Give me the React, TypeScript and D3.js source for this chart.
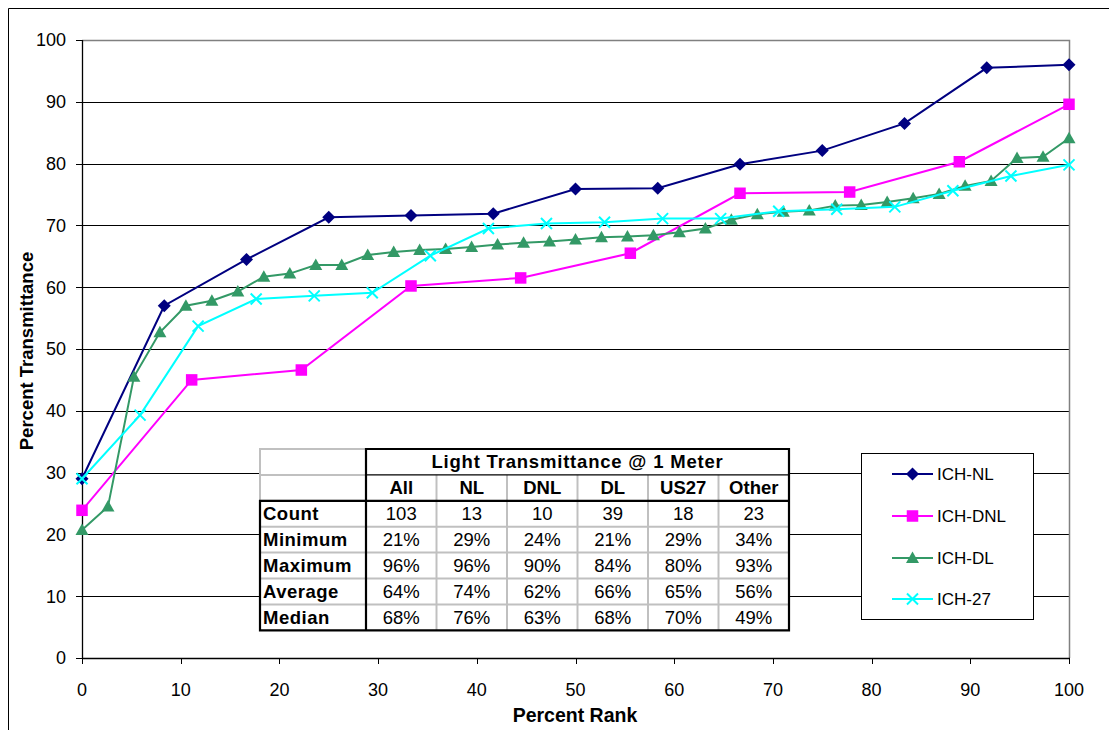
import React from "react";
import * as d3 from "d3";

// Percent transmittance values, sorted, for each location group
const nlValues = [29.0, 57.0, 64.5, 71.3, 71.6, 71.9, 75.9, 76.0, 79.9, 82.1, 86.5, 95.5, 96.0];
const dnlValues = [23.9, 45.0, 46.6, 60.2, 61.5, 65.5, 75.2, 75.4, 80.3, 89.6];
const dlValues = [
  20.7, 24.5, 45.5, 52.7, 57.0, 57.8, 59.3, 61.7, 62.2, 63.6, 63.6, 65.2, 65.7,
  66.0, 66.2, 66.5, 66.9, 67.2, 67.4, 67.7, 68.1, 68.2, 68.4, 68.9, 69.5, 70.9,
  71.8, 72.2, 72.4, 73.2, 73.3, 73.8, 74.4, 75.1, 76.4, 77.2, 80.9, 81.1, 84.1,
];
const us27Values = [
  29.0, 39.3, 53.7, 58.1, 58.6, 59.1, 65.1, 69.5, 70.3, 70.5, 71.1, 71.1, 72.3,
  72.6, 73.0, 75.6, 78.0, 79.8,
];

const seriesNames = ["ICH-NL", "ICH-DNL", "ICH-DL", "ICH-27"];
const seriesColors = ["#000080", "#FF00FF", "#339966", "#00FFFF"];
const seriesMarkers = ["diamond", "square", "triangle", "x"];

const xTicks = [0, 10, 20, 30, 40, 50, 60, 70, 80, 90, 100];
const yTicks = [0, 10, 20, 30, 40, 50, 60, 70, 80, 90, 100];

// Summary table
const tableTitle = "Light Transmittance @ 1 Meter";
const tableColumns = ["All", "NL", "DNL", "DL", "US27", "Other"];
const tableRowLabels = ["Count", "Minimum", "Maximum", "Average", "Median"];
const tableCells = [
  ["103", "13", "10", "39", "18", "23"],
  ["21%", "29%", "24%", "21%", "29%", "34%"],
  ["96%", "96%", "90%", "84%", "80%", "93%"],
  ["64%", "74%", "62%", "66%", "65%", "56%"],
  ["68%", "76%", "63%", "68%", "70%", "49%"],
];

const FONT = "'Liberation Sans', Arial, Helvetica, sans-serif";

const W = 1109;
const H = 730;
const plot = { left: 82, right: 1069, top: 40, bottom: 658 };

const x = d3.scaleLinear().domain([0, 100]).range([plot.left, plot.right]);
const y = d3.scaleLinear().domain([0, 100]).range([plot.bottom, plot.top]);

function Marker({ kind, cx, cy, color }: { kind: string; cx: number; cy: number; color: string }) {
  if (kind === "diamond") {
    const r = 6.5;
    return <path d={`M${cx},${cy - r}L${cx + r},${cy}L${cx},${cy + r}L${cx - r},${cy}Z`} fill={color} />;
  }
  if (kind === "square") {
    const s = 11.5;
    return <rect x={cx - s / 2} y={cy - s / 2} width={s} height={s} fill={color} />;
  }
  if (kind === "triangle") {
    const hw = 6.5;
    return <path d={`M${cx},${cy - 6.5}L${cx + hw},${cy + 5}L${cx - hw},${cy + 5}Z`} fill={color} />;
  }
  const r = 5.5;
  return (
    <path
      d={`M${cx - r},${cy - r}L${cx + r},${cy + r}M${cx - r},${cy + r}L${cx + r},${cy - r}`}
      stroke={color}
      strokeWidth={2}
      fill="none"
    />
  );
}

export default function App() {
  const allSeries = [nlValues, dnlValues, dlValues, us27Values].map((vals, si) => ({
    name: seriesNames[si],
    color: seriesColors[si],
    marker: seriesMarkers[si],
    points: vals.map((v, i) => ({ rank: (i / (vals.length - 1)) * 100, value: v })),
  }));

  const line = d3
    .line<{ rank: number; value: number }>()
    .x((d) => x(d.rank))
    .y((d) => y(d.value));

  // table geometry
  const tLeft = 260;
  const tLabelRight = 366;
  const tRight = 789;
  const tTop = 449;
  const rowH = 25.9;
  const colW = (tRight - tLabelRight) / tableColumns.length;
  const bodyTop = tTop + rowH * 2;
  const tBottom = bodyTop + rowH * tableRowLabels.length;
  const gray = "#c0c0c0";
  const tFont = 18.5;

  // legend geometry
  const lg = { left: 861.5, top: 453.5, width: 172, height: 166 };
  const legendRows = [474, 516, 558, 599];

  return (
    <svg
      width={W}
      height={H}
      style={{ position: "absolute", left: 0, top: 0, background: "#fff" }}
      fontFamily={FONT}
    >
      <rect x={0} y={0} width={W} height={H} fill="#fff" />
      {/* chart frame */}
      <path d={`M8.5,${H + 5}V8.5H${W + 5}`} stroke="#000" strokeWidth={1} fill="none" />

      {/* gridlines */}
      {yTicks
        .filter((t) => t > 0 && t < 100)
        .map((t) => (
          <line key={t} x1={plot.left} x2={plot.right} y1={Math.round(y(t)) + 0.5} y2={Math.round(y(t)) + 0.5} stroke="#000" strokeWidth={1} />
        ))}
      {/* plot area border (top, right) */}
      <path
        d={`M${plot.left},${plot.top + 0.5}H${plot.right + 0.5}V${plot.bottom}`}
        stroke="#808080"
        strokeWidth={1.5}
        fill="none"
      />
      {/* axes */}
      <line x1={plot.left + 0.5} x2={plot.left + 0.5} y1={plot.top} y2={plot.bottom + 0.5} stroke="#000" strokeWidth={1.3} />
      <line x1={plot.left} x2={plot.right + 1} y1={plot.bottom + 0.5} y2={plot.bottom + 0.5} stroke="#000" strokeWidth={1.3} />

      {yTicks.map((t) => (
        <g key={"y" + t}>
          <line x1={plot.left - 6} x2={plot.left} y1={Math.round(y(t)) + 0.5} y2={Math.round(y(t)) + 0.5} stroke="#000" />
          <text x={plot.left - 16} y={y(t)} dy="0.35em" textAnchor="end" fontSize={18}>
            {t}
          </text>
        </g>
      ))}
      {xTicks.map((t) => (
        <g key={"x" + t}>
          <line x1={Math.round(x(t)) + 0.5} x2={Math.round(x(t)) + 0.5} y1={plot.bottom} y2={plot.bottom + 6} stroke="#000" />
          <text x={x(t)} y={plot.bottom + 32} dy="0.35em" textAnchor="middle" fontSize={18}>
            {t}
          </text>
        </g>
      ))}

      {/* axis titles */}
      <text
        transform={`translate(${33},${351}) rotate(-90)`}
        textAnchor="middle"
        fontSize={18.5}
        fontWeight="bold"
      >
        Percent Transmittance
      </text>
      <text x={575} y={722} textAnchor="middle" fontSize={19.5} fontWeight="bold">
        Percent Rank
      </text>

      {/* series */}
      {allSeries.map((s) => (
        <g key={s.name}>
          <path d={line(s.points) || ""} fill="none" stroke={s.color} strokeWidth={2} />
          {s.points.map((p, i) => (
            <Marker key={i} kind={s.marker} cx={x(p.rank)} cy={y(p.value)} color={s.color} />
          ))}
        </g>
      ))}

      {/* summary table */}
      <g>
        <rect x={tLeft} y={tTop} width={tRight - tLeft} height={tBottom - tTop} fill="#fff" />
        {/* gray inner grid */}
        <rect x={tLeft} y={tTop} width={tLabelRight - tLeft} height={bodyTop - tTop} fill="none" stroke={gray} strokeWidth={2} />
        <line x1={tLeft} x2={tLabelRight} y1={tTop + rowH} y2={tTop + rowH} stroke={gray} strokeWidth={2} />
        {tableColumns.slice(1).map((_, i) => (
          <line
            key={"vc" + i}
            x1={tLabelRight + colW * (i + 1)}
            x2={tLabelRight + colW * (i + 1)}
            y1={tTop + rowH}
            y2={tBottom}
            stroke={gray}
            strokeWidth={2}
          />
        ))}
        {tableRowLabels.slice(1).map((_, i) => (
          <line
            key={"hr" + i}
            x1={tLeft}
            x2={tRight}
            y1={bodyTop + rowH * (i + 1)}
            y2={bodyTop + rowH * (i + 1)}
            stroke={gray}
            strokeWidth={2}
          />
        ))}
        {/* black borders */}
        <line x1={tLabelRight} x2={tRight} y1={tTop + rowH} y2={tTop + rowH} stroke="#000" strokeWidth={1.2} />
        <path
          d={`M${tLabelRight},${bodyTop}V${tTop}H${tRight}V${tBottom}H${tLeft}V${bodyTop}H${tRight}M${tLabelRight},${bodyTop}V${tBottom}`}
          fill="none"
          stroke="#000"
          strokeWidth={2.2}
        />
        <text
          x={(tLabelRight + tRight) / 2}
          y={tTop + rowH / 2}
          dy="0.35em"
          textAnchor="middle"
          fontSize={tFont}
          fontWeight="bold"
          letterSpacing={0.8}
        >
          {tableTitle}
        </text>
        {tableColumns.map((c, i) => (
          <text
            key={c}
            x={tLabelRight + colW * (i + 0.5)}
            y={tTop + rowH * 1.5}
            dy="0.35em"
            textAnchor="middle"
            fontSize={tFont}
            fontWeight="bold"
          >
            {c}
          </text>
        ))}
        {tableRowLabels.map((r, ri) => (
          <g key={r}>
            <text
              x={tLeft + 3}
              y={bodyTop + rowH * (ri + 0.5)}
              dy="0.35em"
              fontSize={tFont}
              fontWeight="bold"
              letterSpacing={0.5}
            >
              {r}
            </text>
            {tableCells[ri].map((v, ci) => (
              <text
                key={ci}
                x={tLabelRight + colW * (ci + 0.5)}
                y={bodyTop + rowH * (ri + 0.5)}
                dy="0.35em"
                textAnchor="middle"
                fontSize={tFont}
              >
                {v}
              </text>
            ))}
          </g>
        ))}
      </g>

      {/* legend */}
      <g>
        <rect x={lg.left} y={lg.top} width={lg.width} height={lg.height} fill="#fff" stroke="#000" strokeWidth={1} />
        {allSeries.map((s, i) => (
          <g key={"lg" + s.name}>
            <line x1={892} x2={933} y1={legendRows[i]} y2={legendRows[i]} stroke={s.color} strokeWidth={2} />
            <Marker kind={s.marker} cx={912.5} cy={legendRows[i]} color={s.color} />
            <text x={937} y={legendRows[i]} dy="0.35em" fontSize={17}>
              {s.name}
            </text>
          </g>
        ))}
      </g>
    </svg>
  );
}
